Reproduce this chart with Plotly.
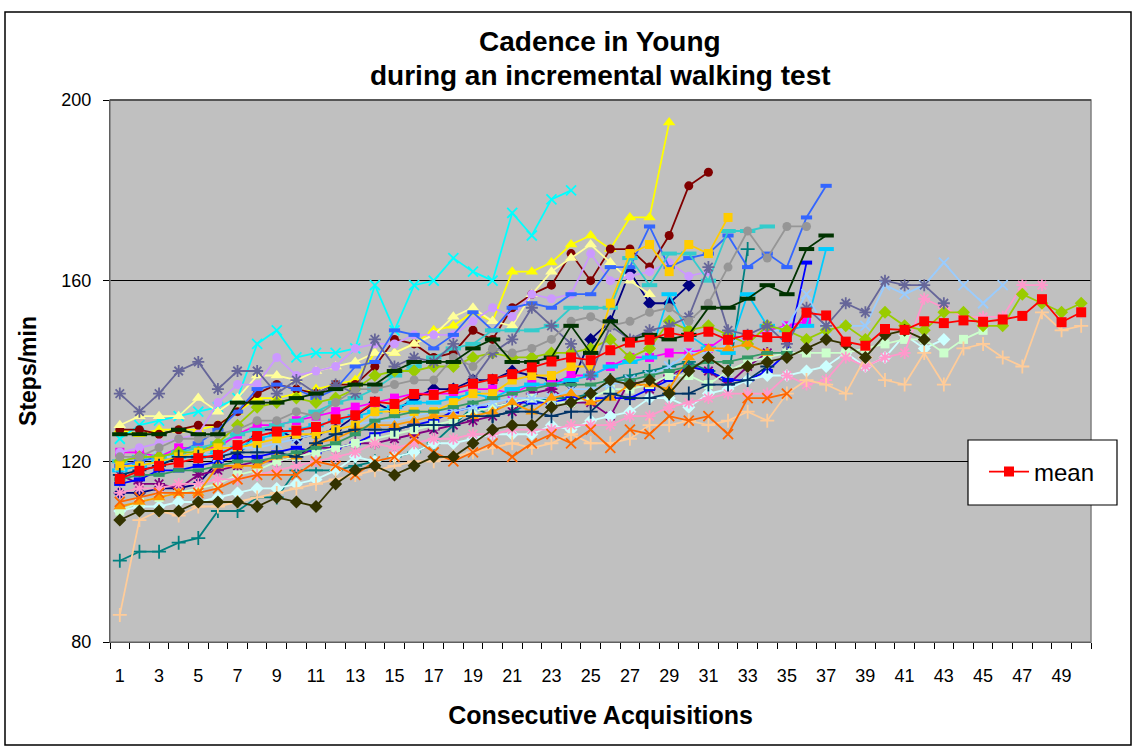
import plotly.graph_objects as go

acquisitions = list(range(1, 51))
tick_labels = [str(i) for i in range(1, 50, 2)]

s01 = [113, 113, 114, 114, 115, 120, 121, 127, 127, 125, 126, 127, 130, 133, 131, 134, 136, 136, 138, 138, 140, 139, 138, 137, 147, 151, 162, 155, 155, 159]
s02 = [122, 122, 121, 123, 123, 123, 126, 128, 128, 129, 130, 131, 132, 133, 134, 135, 135, 135, 136, 136, 135, 137, 137, 139, 139, 141, 143, 143, 144, 144, 145, 148, 147, 149, 150, 151]
s03 = [127, 126, 127, 127, 127, 128, 131, 134, 134, 135, 136, 137, 138, 144, 144, 146, 149, 150, 153, 151, 162, 162, 164, 168, 170, 167, 174, 174, 195]
s04 = [125, 128, 129, 130, 131, 132, 134, 146, 149, 143, 144, 144, 145, 159, 149, 159, 160, 165, 162, 160, 175, 170, 178, 180]
s05 = [117, 115, 115, 114, 117, 118, 119, 120, 120, 121, 123, 123, 124, 124, 125, 126, 127, 128, 129, 130, 131, 135, 136, 133, 133, 130, 138, 136, 139, 141, 140, 137, 141, 144]
s06 = [127, 127, 126, 127, 128, 128, 131, 135, 137, 136, 135, 137, 137, 141, 147, 146, 143, 144, 149, 147, 154, 157, 159, 166, 160, 167, 167, 163, 170, 181, 184]
s07 = [98, 100, 100, 102, 103, 109, 109, 112, 112, 118, 118, 118, 119, 120, 121, 122, 124, 128, 132, 130, 131, 133, 134, 134, 135, 138, 139, 140, 141, 142, 140, 138, 167]
s08 = [115, 116, 118, 118, 119, 120, 121, 121, 122, 123, 122, 123, 124, 126, 127, 128, 129, 131, 132, 132, 133, 133, 133, 134, 134, 134, 134, 136, 138, 141, 140, 138, 138, 140, 144, 164]
s09 = [118, 119, 120, 121, 121, 122, 123, 125, 126, 127, 128, 129, 130, 131, 132, 133, 133, 134, 135, 134, 136, 137, 137, 138, 139, 141, 142, 143, 157, 148, 145, 144, 157, 150, 149, 150, 167]
s10 = [109, 110, 110, 111, 111, 112, 113, 114, 114, 115, 116, 118, 121, 120, 121, 122, 124, 124, 125, 126, 126, 126, 128, 127, 129, 130, 131, 134, 134, 132, 135, 136, 138, 139, 139, 140, 141, 144, 141, 143, 148, 145, 147]
s11 = [109, 111, 112, 113, 114, 115, 117, 118, 120, 121, 122, 123, 124, 125, 126, 127, 128, 129, 131, 132, 133, 134, 133, 133, 134, 136, 136, 137, 139, 139, 137, 140, 142, 143, 144, 144, 144, 144, 145, 146, 147, 147, 144, 147, 149]
s12 = [128, 130, 130, 130, 134, 131, 134, 139, 139, 138, 140, 141, 142, 144, 144, 146, 148, 152, 154, 151, 150, 157, 162, 165, 168, 164, 160, 157]
s13 = [119, 120, 121, 121, 122, 121, 123, 123, 124, 125, 126, 127, 128, 129, 129, 130, 131, 131, 132, 133, 134, 134, 134, 136, 136, 137, 138, 139, 141, 144, 144, 146, 148, 148, 150, 157, 149, 150, 150, 159, 157, 159, 164, 159, 155, 159]
s14 = [113, 114, 114, 115, 115, 116, 116, 117, 118, 119, 120, 121, 122, 124, 123, 124, 125, 125, 126, 126, 127, 127, 127, 128, 128, 128, 130, 130, 132, 133, 134, 135, 135, 135, 139, 137, 138, 143, 141, 143, 144, 156, 154, 152, 152, 152, 159, 159]
s15 = [122, 123, 124, 125, 126, 133, 137, 137, 143, 139, 140, 141, 145, 146, 146, 148, 148, 148, 151, 154, 152, 157, 156, 157, 166, 160, 161, 162, 164, 161, 162]
s16 = [86, 107, 109, 108, 110, 110, 111, 112, 113, 114, 115, 116, 117, 118, 119, 120, 120, 121, 122, 123, 124, 123, 124, 126, 124, 124, 125, 128, 128, 129, 128, 129, 131, 129, 135, 138, 137, 135, 143, 138, 137, 144, 137, 145, 146, 143, 141, 153, 149, 150]
s17 = [119, 120, 121, 122, 124, 127, 131, 136, 137, 136, 134, 136, 141, 142, 149, 148, 145, 148, 153, 149, 154, 155, 154, 157, 157, 163, 163, 172, 163, 165, 166, 170, 163, 166, 163, 174, 181]
s18 = [120, 121, 121, 122, 123, 124, 126, 127, 128, 129, 131, 133, 134, 136, 139, 141, 143, 145, 146, 149, 149, 149, 150, 154, 154, 154, 165, 159, 166, 166, 160, 171, 171, 172]
s19 = [120, 121, 121, 122, 122, 124, 128, 132, 133, 134, 133, 134, 136, 139, 140, 140, 141, 141, 143, 144, 143, 143, 144, 144, 145, 147, 143, 145, 151, 149, 150, 148, 146, 150, 149, 147, 149, 150, 147, 153, 150, 149, 153, 153, 150, 150, 157, 155, 153, 155]
s20 = [119, 119, 120, 121, 122, 123, 123, 124, 125, 126, 126, 127, 128, 131, 131, 131, 131, 133, 135, 135, 138, 139, 139, 141, 141, 155, 166, 168, 162, 168, 166, 174]
s21 = [110, 111, 112, 113, 113, 119, 119, 119, 121, 121, 124, 125, 127, 128, 128, 129, 130, 130, 130, 131, 133, 131, 134, 135, 133, 134, 137, 137, 136, 143, 145, 145, 146, 144]
s22 = [111, 112, 113, 113, 113, 114, 116, 117, 117, 117, 120, 119, 117, 120, 121, 125, 122, 120, 122, 124, 121, 124, 126, 124, 127, 123, 127, 126, 130, 129, 130, 126, 134, 134, 135]
s23 = [135, 131, 135, 140, 142, 136, 140, 140, 135, 138, 135, 137, 135, 147, 141, 143, 142, 146, 138, 144, 147, 154, 150, 146, 139, 150, 147, 149, 150, 152, 163, 149, 148, 150, 146, 154, 150, 155, 153, 160, 159, 159, 155]
s24 = [121, 121, 123, 125, 125, 126, 127, 129, 129, 131, 130, 133, 136, 136, 137, 138, 138, 143, 141, 145, 144, 145, 147, 151, 152, 150, 151, 153, 154, 151, 155, 163, 171, 165, 172, 172]
s25 = [117, 118, 119, 121, 121, 121, 122, 122, 122, 121, 124, 126, 127, 127, 127, 128, 128, 128, 130, 130, 131, 131, 130, 131, 131, 135, 134, 134, 135, 135, 137, 137, 138, 141]
s26 = [116, 117, 117, 118, 118, 119, 120, 120, 121, 122, 123, 124, 126, 129, 130, 131, 131, 132, 133, 134, 135, 136, 137, 137, 137, 138, 138, 139, 140, 141, 142, 142, 143, 144, 144]
s27 = [126, 126, 126, 127, 126, 126, 133, 133, 133, 134, 135, 136, 137, 137, 140, 142, 142, 142, 145, 147, 142, 142, 143, 150, 144, 151, 147, 148, 147, 148, 154, 154, 156, 159, 157, 167, 170]
s28 = [107, 109, 109, 109, 111, 111, 111, 110, 112, 111, 110, 115, 118, 119, 117, 119, 121, 121, 124, 127, 128, 128, 132, 133, 135, 138, 137, 138, 135, 140, 143, 140, 141, 142, 143, 145, 147, 146, 143, 148, 149, 147]
mean = [116.1, 117.9, 119.0, 119.7, 120.7, 121.4, 123.6, 125.6, 126.6, 126.8, 127.6, 129.3, 130.2, 133.2, 132.7, 134.9, 134.7, 136.0, 137.2, 138.2, 139.3, 140.8, 142.1, 143.0, 142.4, 144.6, 146.3, 146.9, 148.5, 147.6, 148.7, 146.9, 148.0, 147.5, 147.5, 152.9, 152.3, 146.5, 145.6, 149.3, 149.1, 151.0, 150.6, 151.2, 150.9, 151.4, 152.2, 155.9, 150.8, 153.0]

title_lines = ["Cadence in Young", "during an incremental walking test"]

subjects = [s01, s02, s03, s04, s05, s06, s07, s08, s09, s10, s11, s12, s13, s14,
            s15, s16, s17, s18, s19, s20, s21, s22, s23, s24, s25, s26, s27, s28]
colors = ["#000080", "#FF00FF", "#FFFF00", "#00FFFF", "#800080", "#800000", "#008080",
          "#0000FF", "#00CCFF", "#CCFFFF", "#CCFFCC", "#FFFF99", "#99CCFF", "#FF99CC",
          "#CC99FF", "#FFCC99", "#3366FF", "#33CCCC", "#99CC00", "#FFCC00", "#FF9900",
          "#FF6600", "#666699", "#969696", "#003366", "#339966", "#003300", "#333300"]
marker_cycle = ["diamond", "square", "triangle-up", "x-thin-open", "asterisk-open",
                "circle", "cross-thin-open", "line-ew-open", "line-ew-open"]

FONT = "Liberation Sans, Arial, sans-serif"

fig = go.Figure()
for i, vals in enumerate(subjects):
    sym = marker_cycle[i % 9]
    col = colors[i]
    if sym in ("x-thin-open", "asterisk-open", "cross-thin-open"):
        mk = dict(symbol=sym, size=10, color=col, line=dict(color=col, width=1.8))
    elif sym == "line-ew-open":
        w = 8 if i % 9 == 7 else 11
        mk = dict(symbol=sym, size=w, color=col, line=dict(color=col, width=4))
    else:
        sz = {"diamond": 10, "square": 9, "circle": 9, "triangle-up": 11}[sym]
        mk = dict(symbol=sym, size=sz, color=col, line=dict(width=0))
    fig.add_trace(go.Scatter(
        x=acquisitions[:len(vals)], y=vals, mode="lines+markers",
        line=dict(color=col, width=1.8), marker=mk, showlegend=False,
        name="S%d" % (i + 1)))

fig.add_trace(go.Scatter(
    x=acquisitions, y=mean, mode="lines+markers", name="mean",
    line=dict(color="#FF0000", width=1.8),
    marker=dict(symbol="square", size=10, color="#FF0000", line=dict(width=0)),
    showlegend=True))

L, R, T, B = 110, 1091, 100, 642
W, H = 1137, 747

def px(xp):
    return (xp - L) / (R - L)

def py(yp):
    return (B - yp) / (B - T)

fig.update_layout(
    width=W, height=H,
    margin=dict(l=L, r=W - R, t=T, b=H - B, pad=0),
    paper_bgcolor="white", plot_bgcolor="#C0C0C0",
    font=dict(family=FONT, color="black", size=17),
    legend=dict(x=px(984), y=py(472), xanchor="left", yanchor="middle",
                bgcolor="rgba(0,0,0,0)", borderwidth=0,
                font=dict(size=24), itemwidth=40),
    xaxis=dict(range=[0.5, 50.5], tickmode="array",
               tickvals=list(range(1, 50, 2)), ticktext=tick_labels,
               ticks="", showgrid=False, zeroline=False,
               showline=True, linecolor="black", linewidth=1,
               tickfont=dict(size=18), ticklabelstandoff=17,
               minor=dict(tick0=0.5, dtick=1, ticks="outside", ticklen=6,
                          tickcolor="black", tickwidth=1, showgrid=False),
               title=dict(text="<b>Consecutive Acquisitions</b>",
                          font=dict(size=25), standoff=21)),
    yaxis=dict(range=[80, 200], tickmode="array", tickvals=[80, 120, 160, 200],
               ticks="outside", ticklen=6, tickcolor="black",
               showgrid=True, gridcolor="black", gridwidth=1, zeroline=False,
               showline=True, linecolor="black", linewidth=1,
               tickfont=dict(size=18), ticklabelstandoff=8,
               title=dict(text="<b>Steps/min</b>", font=dict(size=23), standoff=18)),
)

for txt, yy in zip(title_lines, [42, 75]):
    fig.add_annotation(text="<b>%s</b>" % txt, xref="paper", yref="paper",
                       x=px(600), y=py(yy), xanchor="center", yanchor="middle",
                       showarrow=False, font=dict(size=28, family=FONT, color="black"))

fig.add_shape(type="rect", xref="paper", yref="paper", x0=0, x1=1, y0=0, y1=1,
              line=dict(color="#808080", width=1.5), fillcolor="rgba(0,0,0,0)", layer="above")
fig.add_shape(type="line", xref="paper", yref="paper", x0=0, x1=1, y0=1, y1=1,
              line=dict(color="#404040", width=1.5), layer="above")
fig.add_shape(type="rect", xref="paper", yref="paper",
              x0=px(968), x1=px(1117), y0=py(505), y1=py(440),
              line=dict(color="black", width=1.2), fillcolor="white", layer="above")
fig.add_shape(type="rect", xref="paper", yref="paper",
              x0=px(5), x1=px(1131), y0=py(745), y1=py(12),
              line=dict(color="black", width=1.5), fillcolor="rgba(0,0,0,0)", layer="above")

fig.write_html("out.html", config={"displayModeBar": False},
               post_script="document.body.style.margin='0';document.body.style.overflow='hidden';")
